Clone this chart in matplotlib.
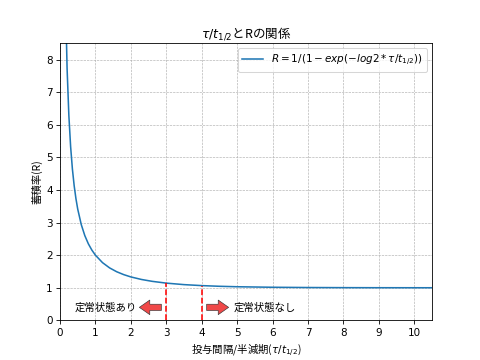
import matplotlib
matplotlib.use('Agg')
import matplotlib.pyplot as plt
import numpy as np

plt.rcParams['font.family'] = ['DejaVu Sans', 'Noto Sans CJK JP']
jp = ['Noto Sans CJK JP', 'DejaVu Sans']

# 曲線の値
tau_ratio = [0.15, 0.2, 0.25, 0.3, 0.35, 0.4, 0.45, 0.5, 0.6, 0.7, 0.8, 0.9,
             1.0, 1.2, 1.4, 1.6, 1.8, 2.0, 2.3, 2.6, 3.0, 3.5, 4.0, 4.5,
             5.0, 6.0, 7.0, 8.0, 9.0, 10.5]
R_vals = [10.13, 7.725, 6.285, 5.326, 4.642, 4.130, 3.732, 3.414, 2.939, 2.601, 2.349, 2.155,
          2.000, 1.771, 1.610, 1.492, 1.403, 1.333, 1.255, 1.198, 1.143, 1.097, 1.067, 1.046,
          1.032, 1.016, 1.008, 1.004, 1.002, 1.001]

# 境界線
vline_x = [3.0, 4.0]
vline_top = [1.143, 1.067]

fig, ax = plt.subplots(figsize=(6.4, 4.8), dpi=75)

ax.plot(tau_ratio, R_vals, color='#1f77b4', label=r'$R=1/(1-exp(-log2*\tau/t_{1/2}))$')
for vx, vt in zip(vline_x, vline_top):
    ax.plot([vx, vx], [0, vt], color='red', linestyle='--')

arrow_kw = dict(facecolor='#f04848', edgecolor='#333333', linewidth=0.6,
                width=6, headwidth=14, headlength=10, shrink=0)
ax.annotate('', xy=(2.24, 0.4), xytext=(2.86, 0.4), arrowprops=arrow_kw)
ax.annotate('', xy=(4.76, 0.4), xytext=(4.14, 0.4), arrowprops=arrow_kw)
ax.text(0.4, 0.4, '定常状態あり', va='center', family=jp, fontsize=10)
ax.text(4.9, 0.4, '定常状態なし', va='center', family=jp, fontsize=10)

ax.set_xlim(0, 10.5)
ax.set_ylim(0, 8.5)
ax.set_xticks(np.arange(0, 11, 1))
ax.set_title(r'$\tau/t_{1/2}$とRの関係', family=jp)
ax.set_xlabel(r'投与間隔/半減期($\tau/t_{1/2}$)', family=jp)
ax.set_ylabel('蓄積率(R)', family=jp)
ax.grid(True, linestyle='--', color='#b0b0b0', linewidth=0.6)
ax.legend(loc='upper right')

plt.savefig('out.png', dpi=75)
plt.close()
